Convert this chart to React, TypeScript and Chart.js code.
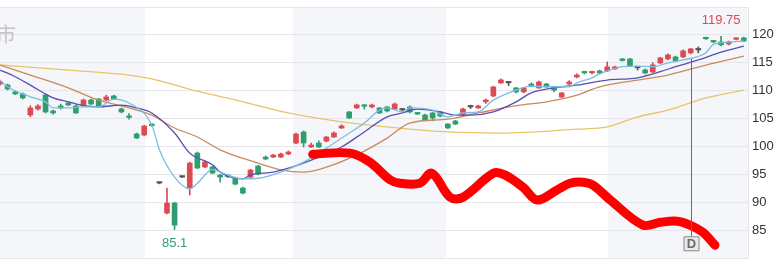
import React, { useEffect, useRef } from 'react';
import { Chart, registerables } from 'chart.js';

Chart.register(...registerables);

// ---- Candles (index, open, high, low, close) ----
const opens = [111.2, 111.02, 109.77, 109.41, 105.64, 106.72, 109.23, 106.36, 107.26, 107.79, 107.26, 107.44, 108.33, 108.51, 108.33, 109.05, 106.72, 105.46, 102.23, 102.05, 104.02, 93.43, 88.05, 89.84, 94.51, 92.54, 98.82, 96.31, 96.31, 94.87, 94.87, 94.33, 92.54, 94.51, 96.49, 98.1, 98.1, 98.1, 98.64, 100.61, 102.59, 99.9, 100.61, 100.97, 101.69, 103.31, 106.18, 106.9, 107.44, 107.08, 106.9, 107.08, 106.72, 106.54, 107.08, 106.0, 105.64, 106.0, 106.18, 104.02, 104.56, 105.64, 107.08, 106.9, 108.0, 109.05, 111.38, 111.4, 110.49, 109.77, 111.2, 110.49, 111.2, 110.67, 108.87, 111.2, 112.46, 113.36, 113.18, 113.54, 113.54, 113.9, 115.69, 115.69, 114.1, 113.72, 113.36, 114.97, 115.69, 116.05, 116.05, 116.77, 117.3, 119.5, 118.92, 118.74, 118.38, 119.2, 119.46];
const highs = [111.8, 111.2, 109.9, 109.6, 107.3, 107.5, 109.4, 106.5, 107.6, 108.0, 107.4, 108.5, 108.5, 108.6, 109.2, 109.2, 106.9, 105.9, 102.4, 103.8, 104.1, 93.5, 92.54, 90.0, 94.6, 97.2, 99.0, 97.4, 96.5, 95.0, 95.0, 94.5, 92.7, 95.9, 96.6, 98.3, 98.6, 98.8, 99.2, 102.4, 102.8, 100.6, 101.0, 101.8, 102.6, 103.9, 106.3, 107.6, 107.5, 107.6, 107.0, 107.2, 107.8, 106.7, 107.3, 106.1, 105.8, 106.1, 106.3, 104.1, 104.7, 106.9, 107.4, 107.4, 108.5, 110.8, 112.1, 111.5, 110.6, 110.6, 111.4, 111.7, 111.3, 110.8, 109.7, 111.8, 113.0, 113.5, 113.5, 113.7, 115.15, 114.4, 115.8, 115.8, 114.3, 113.9, 115.0, 116.0, 116.6, 116.2, 117.3, 117.6, 117.85, 119.6, 119.0, 119.75, 118.9, 119.5, 119.6];
const lows = [111.0, 110.1, 109.3, 108.5, 105.3, 106.5, 106.0, 105.8, 106.7, 107.3, 105.9, 107.3, 107.5, 107.1, 108.2, 108.4, 106.0, 104.9, 101.4, 101.9, 103.6, 93.3, 87.9, 85.1, 94.4, 91.28, 96.0, 96.2, 95.1, 93.61, 94.4, 93.1, 91.5, 94.4, 94.9, 97.6, 98.0, 98.0, 98.5, 100.5, 99.9, 99.8, 99.8, 100.8, 101.6, 103.2, 105.0, 106.8, 106.7, 106.9, 105.9, 106.2, 106.6, 106.4, 106.0, 105.7, 104.6, 104.6, 105.3, 103.2, 103.9, 105.5, 106.8, 106.8, 107.7, 108.9, 111.3, 110.9, 109.6, 109.6, 110.7, 110.4, 110.5, 109.77, 108.7, 111.1, 112.3, 113.0, 113.0, 113.0, 113.4, 113.8, 115.3, 114.3, 113.7, 113.0, 113.2, 114.8, 115.5, 115.2, 115.9, 116.6, 116.77, 119.2, 118.6, 118.0, 118.2, 119.1, 118.8];
const closes = [111.56, 110.31, 109.41, 108.69, 106.9, 107.26, 106.18, 106.0, 106.9, 107.44, 106.0, 108.33, 107.61, 107.26, 108.87, 108.51, 106.18, 105.2, 101.51, 103.67, 103.7, 93.43, 89.84, 85.89, 94.51, 97.02, 96.13, 97.2, 95.23, 94.51, 94.6, 93.25, 91.64, 95.77, 95.05, 97.74, 98.46, 98.64, 99.0, 102.23, 100.61, 100.26, 99.9, 101.69, 102.41, 103.67, 105.1, 107.44, 107.2, 107.44, 106.0, 106.36, 107.61, 106.54, 106.18, 105.82, 104.74, 105.1, 105.46, 103.31, 104.02, 106.72, 107.08, 107.26, 108.33, 110.67, 111.92, 111.4, 109.77, 110.49, 110.85, 111.56, 110.67, 110.1, 109.59, 111.56, 112.82, 113.18, 113.36, 113.18, 114.26, 114.26, 115.4, 114.44, 114.1, 113.18, 114.62, 115.87, 116.41, 115.33, 117.13, 117.49, 117.3, 119.3, 118.74, 118.21, 118.74, 119.4, 118.92];

// ---- Moving averages (candle index, value) ----
const ma5Idx = [0, 1, 4, 6, 7, 9, 11, 13, 15, 17, 20, 21, 23, 25, 26, 28, 29, 32, 34, 37, 40, 43, 45, 48, 50, 51, 53, 54, 57, 59, 61, 63, 65, 68, 70, 72, 75, 76, 78, 79, 82, 84, 86, 88, 90, 93, 94, 96, 98];
const ma5Val = [111.9, 110.7, 108.9, 108.0, 106.9, 106.9, 107.1, 107.1, 108.5, 107.8, 103.8, 99.4, 94.5, 92.4, 93.4, 95.9, 95.4, 94.2, 94.3, 95.4, 97.2, 99.7, 101.5, 104.2, 106.5, 106.9, 106.2, 106.9, 106.5, 105.3, 106.0, 106.2, 108.3, 110.1, 110.8, 110.7, 110.7, 111.4, 112.3, 113.0, 114.3, 114.4, 114.3, 115.0, 115.5, 116.8, 118.3, 118.7, 118.9];
const ma10Idx = [0, 2, 4, 7, 9, 11, 13, 16, 18, 20, 23, 25, 28, 29, 32, 33, 36, 38, 42, 45, 48, 51, 53, 55, 58, 60, 62, 65, 68, 70, 73, 76, 80, 84, 87, 89, 92, 95, 98];
const ma10Val = [113.7, 112.5, 111.0, 108.7, 108.0, 107.3, 107.1, 107.4, 106.9, 106.0, 102.4, 98.8, 96.7, 95.4, 94.2, 94.9, 95.4, 96.1, 98.1, 99.9, 102.6, 105.3, 106.0, 106.7, 106.2, 105.6, 105.6, 106.2, 108.0, 109.6, 110.5, 111.0, 111.9, 112.3, 113.4, 114.3, 115.5, 116.9, 118.0];
const ma20Idx = [0, 4, 9, 13, 17, 20, 23, 26, 29, 34, 37, 40, 43, 47, 51, 54, 59, 63, 68, 72, 76, 79, 84, 88, 93, 98];
const ma20Val = [114.6, 112.8, 110.5, 108.3, 106.9, 105.6, 103.3, 101.7, 99.4, 97.0, 95.8, 95.4, 96.3, 98.5, 101.5, 104.2, 104.9, 106.0, 107.3, 108.0, 109.2, 110.7, 111.9, 112.8, 114.6, 116.2];
const ma60Idx = [0, 9, 17, 20, 26, 32, 38, 45, 51, 59, 66, 76, 80, 84, 88, 93, 98];
const ma60Val = [114.6, 113.7, 112.8, 112.1, 109.9, 108.0, 106.0, 104.4, 103.5, 102.6, 102.4, 103.1, 103.5, 105.3, 106.5, 108.7, 110.1];

// ---- Hand-drawn red stroke (candle index, value) ----
const drawIdx = [41.2, 46.1, 48.7, 51.4, 52.7, 55.3, 56.9, 59.3, 61.0, 65.0, 66.5, 68.9, 70.8, 73.4, 75.1, 76.8, 78.1, 80.4, 84.7, 87.0, 89.2, 90.9, 92.6, 94.2];
const drawVal = [98.6, 98.8, 97.2, 94.0, 93.4, 93.4, 95.2, 90.9, 90.9, 95.2, 94.9, 92.7, 90.4, 92.2, 93.4, 93.6, 93.1, 90.4, 85.9, 86.4, 86.6, 85.9, 84.6, 82.3];

// ---- Period bands (month boundaries, in candle index units) ----
const bandEdges = [19.1, 38.6, 58.75, 80.1];

// ---- Y ticks ----
const yMin = 80;
const yMax = 125;
const yStep = 5;
const yHiddenTicks = [80, 125];

// ---- Annotations ----
const hiIdx = 95;
const hiText = '119.75';
const loIdx = 23;
const loText = '85.1';
const markerIdx = 91;
const markerTop = 115.7;
const markerBottom = 83.8;
const markerText = 'D';
const watermark = '市';

const RED = '#dc4a52';
const GREEN = '#2f9e6f';
const DOJI = '#555555';

export default function App() {
  const ref = useRef<HTMLCanvasElement | null>(null);

  useEffect(() => {
    document.body.style.margin = '0';
    const canvas = ref.current;
    if (!canvas) return;

    const n = opens.length;
    const idx = Array.from({ length: n }, (_, i) => i);
    const colors = idx.map((i) =>
      closes[i] > opens[i] ? RED : closes[i] < opens[i] ? GREEN : DOJI
    );

    const bandsPlugin = {
      id: 'bands',
      beforeDraw(chart: any) {
        const { ctx, chartArea, scales } = chart;
        const xs = scales.x;
        const edges = [xs.min, ...bandEdges, xs.max];
        ctx.save();
        for (let k = 0; k < edges.length - 1; k++) {
          if (k % 2 !== 0) continue;
          const x0 = Math.max(chartArea.left, xs.getPixelForValue(edges[k]));
          const x1 = Math.min(chartArea.right, xs.getPixelForValue(edges[k + 1]));
          ctx.fillStyle = '#f4f6f9';
          ctx.fillRect(x0, chartArea.top, x1 - x0, chartArea.bottom - chartArea.top);
        }
        ctx.restore();
      },
      beforeDatasetsDraw(chart: any) {
        const { ctx, chartArea } = chart;
        ctx.save();
        ctx.fillStyle = '#c4c4c4';
        ctx.font = '20px "Noto Sans CJK SC", sans-serif';
        ctx.textBaseline = 'top';
        ctx.textAlign = 'left';
        ctx.fillText(watermark, chartArea.left - 4, chartArea.top + 17);
        ctx.restore();
      },
    };

    const notesPlugin = {
      id: 'notes',
      afterDatasetsDraw(chart: any) {
        const { ctx, scales } = chart;
        const xs = scales.x;
        const ys = scales.y;
        ctx.save();
        ctx.font = '13px "Liberation Sans", Arial, sans-serif';
        ctx.textAlign = 'center';
        ctx.textBaseline = 'middle';
        ctx.fillStyle = RED;
        ctx.fillText(hiText, xs.getPixelForValue(hiIdx), ys.getPixelForValue(highs[hiIdx]) - 16);
        ctx.fillStyle = GREEN;
        ctx.fillText(loText, xs.getPixelForValue(loIdx), ys.getPixelForValue(lows[loIdx]) + 14);

        // marker line + D box
        const mx = Math.round(xs.getPixelForValue(markerIdx)) + 0.5;
        const yTop = ys.getPixelForValue(markerTop);
        const yBot = ys.getPixelForValue(markerBottom);
        ctx.strokeStyle = '#6b6b6b';
        ctx.lineWidth = 1;
        ctx.beginPath();
        ctx.moveTo(mx, yTop);
        ctx.lineTo(mx, yBot);
        ctx.stroke();
        const bw = 15;
        const bh = 14;
        ctx.fillStyle = '#e9e9e9';
        ctx.strokeStyle = '#8a8a8a';
        ctx.beginPath();
        ctx.rect(mx - bw / 2, yBot, bw, bh);
        ctx.fill();
        ctx.stroke();
        ctx.fillStyle = '#6a6a6a';
        ctx.font = 'bold 13px "Liberation Sans", Arial, sans-serif';
        ctx.fillText(markerText, mx, yBot + bh / 2 + 1);
        ctx.restore();
      },
    };

    const line = (xsArr: number[], vals: number[], color: string, order: number) => ({
      type: 'line' as const,
      data: xsArr.map((x, i) => ({ x, y: vals[i] })),
      borderColor: color,
      borderWidth: 1.3,
      pointRadius: 0,
      cubicInterpolationMode: 'monotone' as const,
      order,
    });

    const chart = new Chart(canvas, {
      type: 'bar',
      data: {
        datasets: [
          {
            type: 'line',
            data: drawIdx.map((x, i) => ({ x, y: drawVal[i] })),
            borderColor: '#ff0000',
            borderWidth: 9,
            pointRadius: 0,
            tension: 0.35,
            borderCapStyle: 'round',
            borderJoinStyle: 'round',
            order: 0,
          } as any,
          line(ma5Idx, ma5Val, '#7fbde0', 1) as any,
          line(ma10Idx, ma10Val, '#5a4eb3', 2) as any,
          line(ma20Idx, ma20Val, '#c98a5f', 3) as any,
          line(ma60Idx, ma60Val, '#e8c469', 4) as any,
          {
            type: 'bar',
            data: idx.map((i) => ({ x: i, y: [opens[i], closes[i]] })),
            backgroundColor: colors,
            barThickness: 5,
            minBarLength: 1.5,
            grouped: false,
            borderWidth: 0,
            order: 6,
          } as any,
          {
            type: 'bar',
            data: idx.map((i) => ({ x: i, y: [lows[i], highs[i]] })),
            backgroundColor: colors,
            barThickness: 1,
            grouped: false,
            borderWidth: 0,
            order: 7,
          } as any,
        ],
      },
      options: {
        animation: false,
        responsive: false,
        maintainAspectRatio: false,
        devicePixelRatio: 1,
        layout: { padding: { top: 7, bottom: 17, left: 0, right: 0 } },
        plugins: { legend: { display: false }, tooltip: { enabled: false } },
        scales: {
          x: { type: 'linear', min: 0, max: 98.55, display: false, offset: false },
          y: {
            position: 'right',
            min: yMin,
            max: yMax,
            ticks: {
              stepSize: yStep,
              padding: 4,
              color: '#333',
              font: { size: 13, family: '"Liberation Sans", Arial, sans-serif' },
              callback: (v: any) => (yHiddenTicks.includes(Number(v)) ? '' : String(v)),
            },
            grid: { color: '#e4e6ea', drawTicks: false },
            border: { display: true, color: '#e4e6ea' },
            afterFit: (s: any) => {
              s.width = 32;
              s.paddingTop = 0;
              s.paddingBottom = 0;
            },
          } as any,
        },
      } as any,
      plugins: [bandsPlugin, notesPlugin],
    });

    return () => chart.destroy();
  }, []);

  return (
    <div style={{ width: 780, height: 275 }}>
      <canvas ref={ref} width={780} height={275} style={{ display: 'block' }} />
    </div>
  );
}
